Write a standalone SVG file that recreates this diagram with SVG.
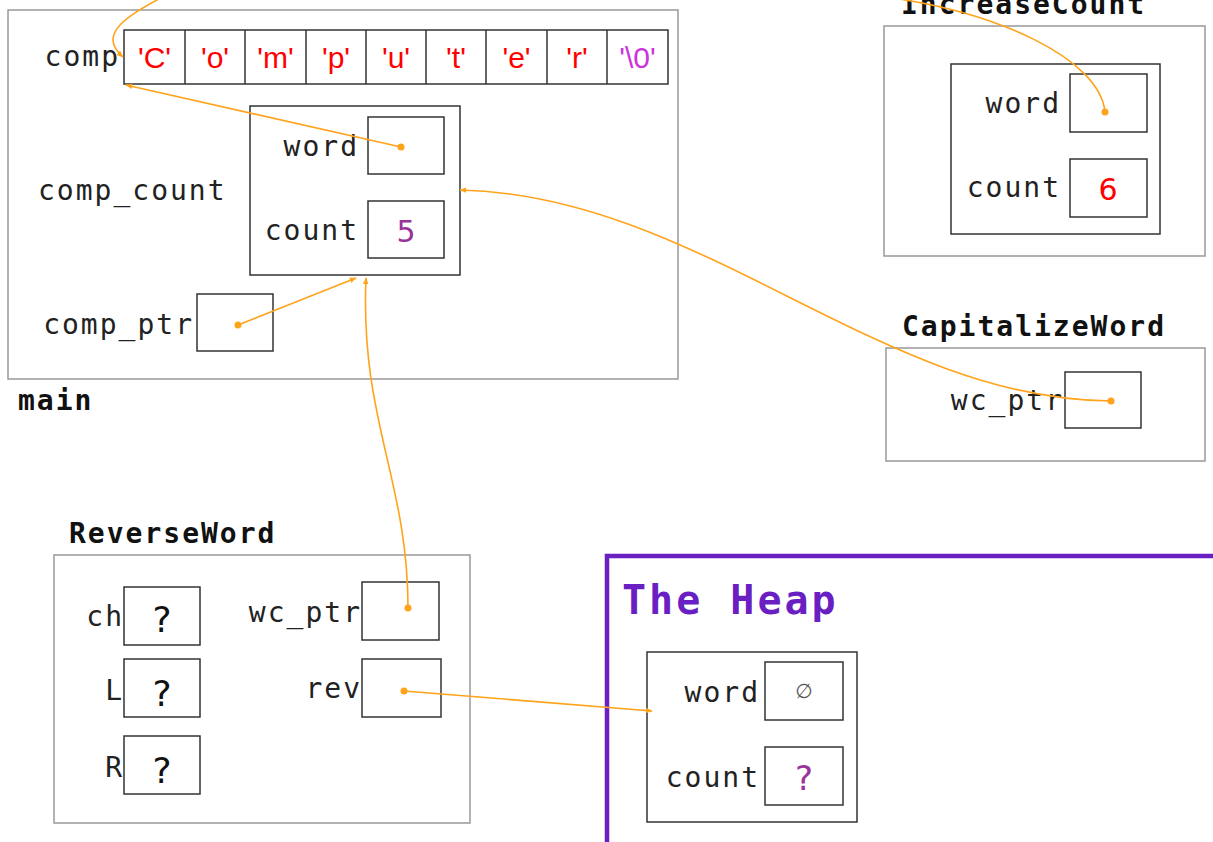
<svg xmlns="http://www.w3.org/2000/svg" width="1213" height="842" viewBox="0 0 1213 842">
<style>
.frame{fill:none;stroke:#999;stroke-width:1.5}
.box{fill:none;stroke:#333;stroke-width:1.5}
.lbl{font-family:"DejaVu Sans Mono",monospace;font-size:28px;letter-spacing:2px;fill:#222}
.r{text-anchor:end}
.title{font-family:"DejaVu Sans Mono",monospace;font-size:28px;font-weight:bold;letter-spacing:2px;fill:#111}
.ch{font-family:"Liberation Sans",Arial,sans-serif;font-size:30px;fill:#f00;text-anchor:middle}
.val{font-family:"DejaVu Sans",sans-serif;text-anchor:middle}
.conn{fill:none;stroke:#ffa31a;stroke-width:1.6}
.dot{fill:#ffa31a}
</style>
<defs>
<marker id="arr" viewBox="0 0 10 10" refX="9" refY="5" markerWidth="7" markerHeight="7" markerUnits="userSpaceOnUse" orient="auto">
<path d="M0,1 L10,5 L0,9 z" fill="#ffa31a"/>
</marker>
</defs>
<rect width="1213" height="842" fill="#fff"/>

<g id="main">
<rect class="frame" x="8" y="10" width="670" height="369"/>
<text class="title" x="18" y="410">main</text>
<text class="lbl r" x="120" y="66">comp</text>
<g id="comp-array">
<rect class="box" x="124" y="30" width="544" height="54"/>
<line class="box" x1="185" y1="30" x2="185" y2="84"/>
<line class="box" x1="245" y1="30" x2="245" y2="84"/>
<line class="box" x1="306" y1="30" x2="306" y2="84"/>
<line class="box" x1="366" y1="30" x2="366" y2="84"/>
<line class="box" x1="426" y1="30" x2="426" y2="84"/>
<line class="box" x1="486" y1="30" x2="486" y2="84"/>
<line class="box" x1="547" y1="30" x2="547" y2="84"/>
<line class="box" x1="607" y1="30" x2="607" y2="84"/>
<text class="ch" x="154.5" y="68">'C'</text>
<text class="ch" x="215" y="68">'o'</text>
<text class="ch" x="275.5" y="68">'m'</text>
<text class="ch" x="336" y="68">'p'</text>
<text class="ch" x="396" y="68">'u'</text>
<text class="ch" x="456" y="68">'t'</text>
<text class="ch" x="516.5" y="68">'e'</text>
<text class="ch" x="577" y="68">'r'</text>
<text class="ch" x="637.5" y="68" style="fill:#cc33dd">'\0'</text>
</g>
<text class="lbl" x="38" y="200">comp_count</text>
<g id="comp_count">
<rect class="box" x="250" y="106" width="210" height="169"/>
<text class="lbl r" x="359" y="156">word</text>
<rect class="box" x="368" y="117" width="76" height="57"/>
<text class="lbl r" x="359" y="240">count</text>
<rect class="box" x="368" y="201" width="76" height="57"/>
<text class="val" x="406" y="242" font-size="30" fill="#993399">5</text>
</g>
<g id="comp_ptr">
<text class="lbl r" x="194" y="334">comp_ptr</text>
<rect class="box" x="197" y="294" width="76" height="57"/>
</g>
</g>

<g id="IncreaseCount">
<text class="title" x="901" y="14">IncreaseCount</text>
<rect class="frame" x="884" y="26" width="321" height="230"/>
<rect class="box" x="951" y="64" width="209" height="170"/>
<text class="lbl r" x="1061" y="113">word</text>
<rect class="box" x="1070" y="74" width="77" height="58"/>
<text class="lbl r" x="1061" y="197">count</text>
<rect class="box" x="1070" y="159" width="77" height="58"/>
<text class="val" x="1108" y="200" font-size="30" fill="#f00">6</text>
</g>

<g id="CapitalizeWord">
<text class="title" x="902" y="336">CapitalizeWord</text>
<rect class="frame" x="886" y="348" width="319" height="113"/>
<text class="lbl r" x="1064" y="410">wc_ptr</text>
<rect class="box" x="1065" y="372" width="76" height="56"/>
</g>

<g id="ReverseWord">
<text class="title" x="69" y="543">ReverseWord</text>
<rect class="frame" x="54" y="555" width="416" height="268"/>
<text class="lbl r" x="124" y="626">ch</text>
<rect class="box" x="124" y="587" width="76" height="58"/>
<text class="val" x="162" y="632" font-size="36" fill="#111">?</text>
<text class="lbl r" x="124" y="700">L</text>
<rect class="box" x="124" y="659" width="76" height="58"/>
<text class="val" x="162" y="706" font-size="36" fill="#111">?</text>
<text class="lbl r" x="124" y="777">R</text>
<rect class="box" x="124" y="736" width="76" height="58"/>
<text class="val" x="162" y="783" font-size="36" fill="#111">?</text>
<text class="lbl r" x="362" y="622">wc_ptr</text>
<rect class="box" x="362" y="582" width="77" height="58"/>
<text class="lbl r" x="362" y="698">rev</text>
<rect class="box" x="362" y="659" width="79" height="58"/>
</g>

<g id="heap">
<path d="M607,842 L607,556 L1213,556" fill="none" stroke="#6a1fc3" stroke-width="4.5"/>
<text x="622" y="614" font-family="DejaVu Sans Mono, monospace" font-size="40" font-weight="bold" letter-spacing="3" fill="#6a1fc3">The Heap</text>
<g id="heap-struct">
<rect class="box" x="647" y="652" width="210" height="170"/>
<text class="lbl r" x="760" y="702">word</text>
<rect class="box" x="765" y="662" width="78" height="58"/>
<text class="val" x="804" y="698" font-size="20" fill="#555">∅</text>
<text class="lbl r" x="760" y="787">count</text>
<rect class="box" x="765" y="747" width="78" height="58"/>
<text class="val" x="804" y="790" font-size="34" fill="#993399">?</text>
</g>
</g>

<g id="connectors">
<path class="conn" d="M1105,112 C1100,60 1000,10 870,-5 C600,-40 250,-40 175,-10 C140,10 92,30 123,57" marker-end="url(#arr)"/>
<circle class="dot" cx="1105" cy="112" r="3.5"/>
<path class="conn" d="M401,147 L126,85" marker-end="url(#arr)"/>
<circle class="dot" cx="401" cy="147" r="3.5"/>
<path class="conn" d="M238,325 L356,278" marker-end="url(#arr)"/>
<circle class="dot" cx="238" cy="325" r="3.5"/>
<path class="conn" d="M408,608 C408,480 360,420 366,278" marker-end="url(#arr)"/>
<circle class="dot" cx="408" cy="608" r="3.5"/>
<path class="conn" d="M1111,401 C880,400 700,195 460,190" marker-end="url(#arr)"/>
<circle class="dot" cx="1111" cy="401" r="3.5"/>
<path class="conn" d="M404,691 L652,711" marker-end="url(#arr)"/>
<circle class="dot" cx="404" cy="691" r="3.5"/>
</g>
</svg>
